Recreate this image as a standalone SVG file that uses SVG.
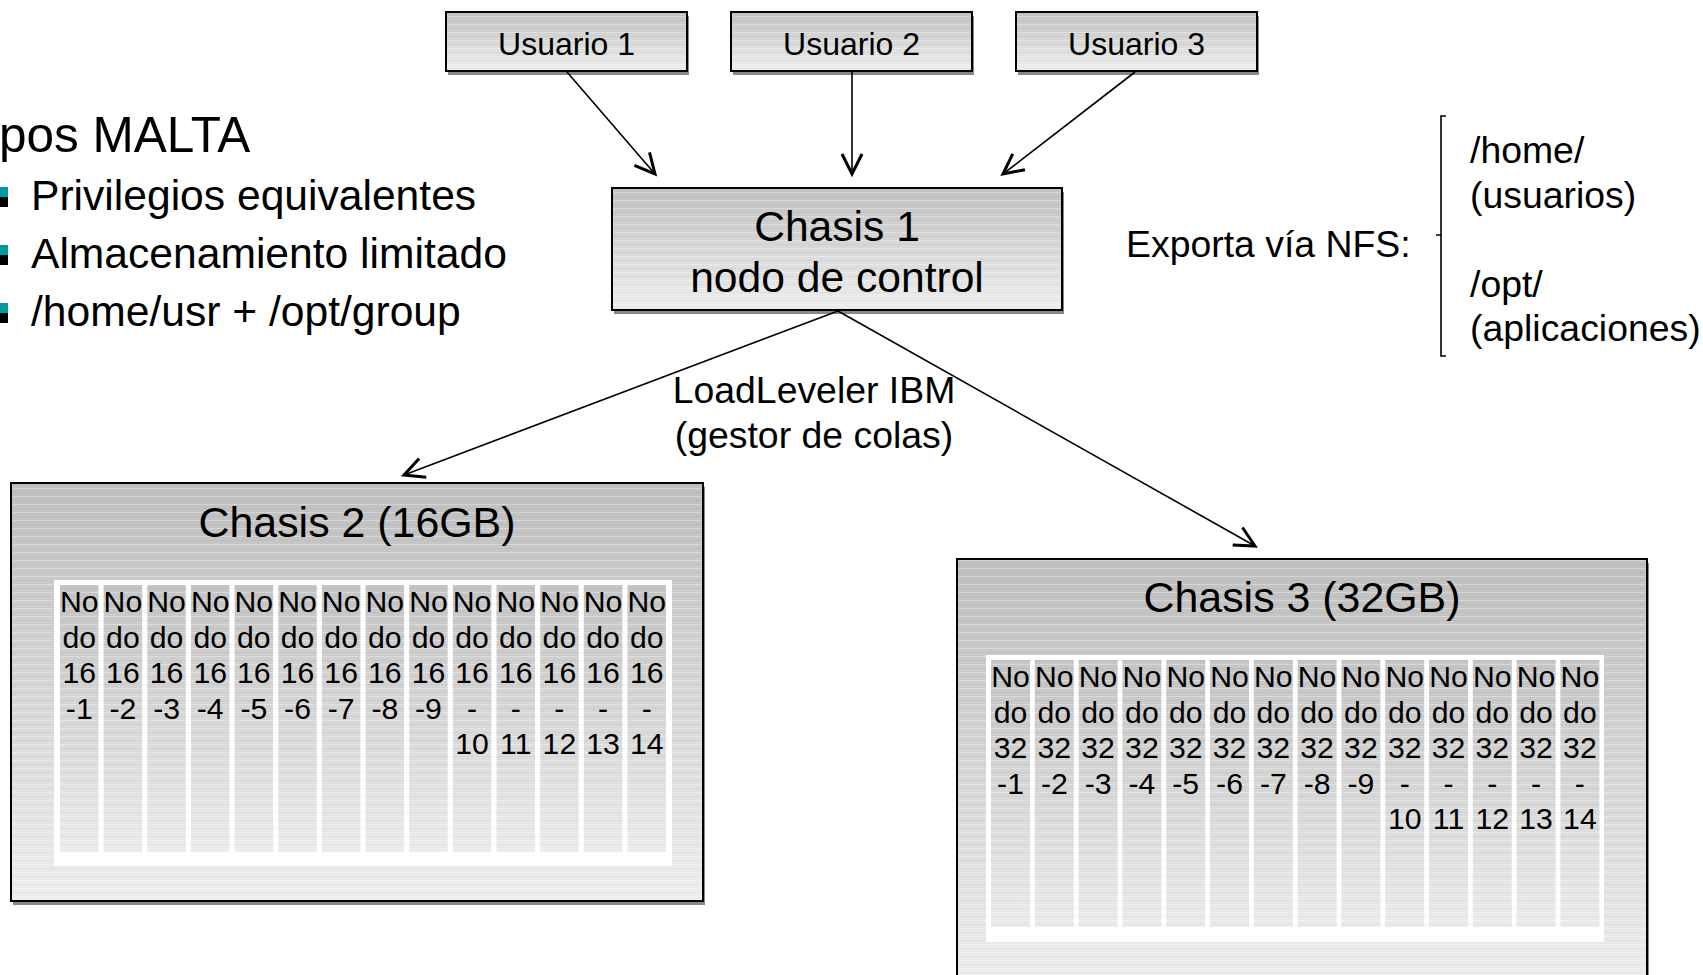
<svg xmlns="http://www.w3.org/2000/svg" width="1703" height="975" viewBox="0 0 1703 975">
<style>
text{font-family:"Liberation Sans",Arial,sans-serif;fill:#000}
.box{stroke:#000;stroke-width:2}
.shadow{fill:#888}
.stripes{fill:url(#stripes)}
.c{text-anchor:middle}
.usr{font-size:32px}
.ch1{font-size:42.6px}
.title{font-size:42.9px}
.nd{font-size:30.2px;text-anchor:middle}
.lst{font-size:42.6px}
.lbl{font-size:37.4px}
.conn{stroke:#000;stroke-width:1.6;fill:none;marker-end:url(#arr)}
.col{fill:url(#gCol)}
</style>
<defs>
<linearGradient id="gUser" x1="0" y1="0" x2="0" y2="1">
<stop offset="0" stop-color="#c2c2c2"/><stop offset="1" stop-color="#efefef"/>
</linearGradient>
<linearGradient id="gBig" x1="0" y1="0" x2="0" y2="1">
<stop offset="0" stop-color="#bfbfbf"/><stop offset="1" stop-color="#eeeeee"/>
</linearGradient>
<linearGradient id="gCol" x1="0" y1="0" x2="0" y2="1">
<stop offset="0" stop-color="#c4c4c4"/><stop offset="1" stop-color="#ebebeb"/>
</linearGradient>
<pattern id="stripes" patternUnits="userSpaceOnUse" width="8" height="8">
<rect x="0" y="0" width="8" height="1" fill="#ffffff" fill-opacity="0.3"/>
<rect x="0" y="4" width="8" height="1" fill="#000000" fill-opacity="0.035"/>
</pattern>
<marker id="arr" markerUnits="userSpaceOnUse" markerWidth="30" markerHeight="30" viewBox="-25 -15 30 30" refX="0" refY="0" orient="auto">
<path d="M-20,-10 L0,0 L-20,10" fill="none" stroke="#000" stroke-width="3"/>
</marker>
</defs>
<rect width="1703" height="975" fill="#fff"/>

<g id="malta-list">
<text x="-1" y="152" style="font-size:49.5px">pos MALTA</text>
<rect x="0" y="187" width="8" height="10" fill="#009b9b"/><rect x="0" y="197" width="8" height="10" fill="#000"/>
<rect x="0" y="245" width="8" height="10" fill="#009b9b"/><rect x="0" y="255" width="8" height="10" fill="#000"/>
<rect x="0" y="303" width="8" height="10" fill="#009b9b"/><rect x="0" y="313" width="8" height="10" fill="#000"/>
<text class="lst" x="31" y="210">Privilegios equivalentes</text>
<text class="lst" x="31" y="268">Almacenamiento limitado</text>
<text class="lst" x="31" y="326">/home/usr + /opt/group</text>
</g>

<g id="usuario1">
<rect class="shadow" x="448" y="16" width="241" height="59"/>
<rect class="box" x="446" y="12" width="241" height="59" fill="url(#gUser)"/>
<rect class="stripes" x="447" y="13" width="239" height="57"/>
<text class="usr c" x="566.5" y="55">Usuario 1</text>
</g>
<g id="usuario2">
<rect class="shadow" x="733" y="16" width="241" height="59"/>
<rect class="box" x="731" y="12" width="241" height="59" fill="url(#gUser)"/>
<rect class="stripes" x="732" y="13" width="239" height="57"/>
<text class="usr c" x="851.5" y="55">Usuario 2</text>
</g>
<g id="usuario3">
<rect class="shadow" x="1018" y="16" width="241" height="59"/>
<rect class="box" x="1016" y="12" width="241" height="59" fill="url(#gUser)"/>
<rect class="stripes" x="1017" y="13" width="239" height="57"/>
<text class="usr c" x="1136.5" y="55">Usuario 3</text>
</g>

<g id="chasis1">
<rect class="shadow" x="614" y="192" width="450" height="122"/>
<rect class="box" x="612" y="188" width="450" height="122" fill="url(#gUser)"/>
<rect class="stripes" x="613" y="189" width="448" height="120"/>
<text class="ch1 c" x="837" y="241">Chasis 1</text>
<text class="ch1 c" x="837" y="292">nodo de control</text>
</g>

<g id="nfs">
<text class="lbl" x="1126" y="257">Exporta vía NFS:</text>
<path d="M1446,116 L1441,116 L1441,356 L1446,356 M1441,235 L1436,235" fill="none" stroke="#000" stroke-width="1.6"/>
<text class="lbl" x="1470" y="163">/home/</text>
<text class="lbl" x="1470" y="208">(usuarios)</text>
<text class="lbl" x="1470" y="297">/opt/</text>
<text class="lbl" x="1470" y="341">(aplicaciones)</text>
</g>

<g id="connectors">
<path class="conn" d="M567,72 L655,174"/>
<path class="conn" d="M852,72 L852,174"/>
<path class="conn" d="M1135,72 L1003,174"/>
<path class="conn" d="M838,311 L404,475"/>
<path class="conn" d="M838,311 L1255,546"/>
</g>

<g id="loadleveler">
<text class="lbl c" x="814" y="403">LoadLeveler IBM</text>
<text class="lbl c" x="814" y="448">(gestor de colas)</text>
</g>

<g id="chasis2">
<rect class="shadow" x="13" y="487" width="692" height="418"/>
<rect class="box" x="11" y="483" width="692" height="418" fill="url(#gBig)" stroke-width="2.5"/>
<rect class="stripes" x="12" y="484" width="690" height="416"/>
<text class="title c" x="357" y="537">Chasis 2 (16GB)</text>
<rect x="54" y="580" width="618" height="286" fill="#fff"/>
<g id="chasis2-nodes">
<rect class="col" x="60" y="585" width="38.5" height="267"/>
<rect class="col" x="103.65" y="585" width="38.5" height="267"/>
<rect class="col" x="147.3" y="585" width="38.5" height="267"/>
<rect class="col" x="190.95" y="585" width="38.5" height="267"/>
<rect class="col" x="234.6" y="585" width="38.5" height="267"/>
<rect class="col" x="278.25" y="585" width="38.5" height="267"/>
<rect class="col" x="321.9" y="585" width="38.5" height="267"/>
<rect class="col" x="365.55" y="585" width="38.5" height="267"/>
<rect class="col" x="409.2" y="585" width="38.5" height="267"/>
<rect class="col" x="452.85" y="585" width="38.5" height="267"/>
<rect class="col" x="496.5" y="585" width="38.5" height="267"/>
<rect class="col" x="540.15" y="585" width="38.5" height="267"/>
<rect class="col" x="583.8" y="585" width="38.5" height="267"/>
<rect class="col" x="627.45" y="585" width="38.5" height="267"/>
<rect class="stripes" x="60" y="585" width="606" height="267"/>
<text class="nd" x="79.25" y="612">No<tspan x="79.25" y="647.5">do</tspan><tspan x="79.25" y="683">16</tspan><tspan x="79.25" y="718.5">-1</tspan></text>
<text class="nd" x="122.9" y="612">No<tspan x="122.9" y="647.5">do</tspan><tspan x="122.9" y="683">16</tspan><tspan x="122.9" y="718.5">-2</tspan></text>
<text class="nd" x="166.55" y="612">No<tspan x="166.55" y="647.5">do</tspan><tspan x="166.55" y="683">16</tspan><tspan x="166.55" y="718.5">-3</tspan></text>
<text class="nd" x="210.2" y="612">No<tspan x="210.2" y="647.5">do</tspan><tspan x="210.2" y="683">16</tspan><tspan x="210.2" y="718.5">-4</tspan></text>
<text class="nd" x="253.85" y="612">No<tspan x="253.85" y="647.5">do</tspan><tspan x="253.85" y="683">16</tspan><tspan x="253.85" y="718.5">-5</tspan></text>
<text class="nd" x="297.5" y="612">No<tspan x="297.5" y="647.5">do</tspan><tspan x="297.5" y="683">16</tspan><tspan x="297.5" y="718.5">-6</tspan></text>
<text class="nd" x="341.15" y="612">No<tspan x="341.15" y="647.5">do</tspan><tspan x="341.15" y="683">16</tspan><tspan x="341.15" y="718.5">-7</tspan></text>
<text class="nd" x="384.8" y="612">No<tspan x="384.8" y="647.5">do</tspan><tspan x="384.8" y="683">16</tspan><tspan x="384.8" y="718.5">-8</tspan></text>
<text class="nd" x="428.45" y="612">No<tspan x="428.45" y="647.5">do</tspan><tspan x="428.45" y="683">16</tspan><tspan x="428.45" y="718.5">-9</tspan></text>
<text class="nd" x="472.1" y="612">No<tspan x="472.1" y="647.5">do</tspan><tspan x="472.1" y="683">16</tspan><tspan x="472.1" y="718.5">-</tspan><tspan x="472.1" y="754">10</tspan></text>
<text class="nd" x="515.75" y="612">No<tspan x="515.75" y="647.5">do</tspan><tspan x="515.75" y="683">16</tspan><tspan x="515.75" y="718.5">-</tspan><tspan x="515.75" y="754">11</tspan></text>
<text class="nd" x="559.4" y="612">No<tspan x="559.4" y="647.5">do</tspan><tspan x="559.4" y="683">16</tspan><tspan x="559.4" y="718.5">-</tspan><tspan x="559.4" y="754">12</tspan></text>
<text class="nd" x="603.05" y="612">No<tspan x="603.05" y="647.5">do</tspan><tspan x="603.05" y="683">16</tspan><tspan x="603.05" y="718.5">-</tspan><tspan x="603.05" y="754">13</tspan></text>
<text class="nd" x="646.7" y="612">No<tspan x="646.7" y="647.5">do</tspan><tspan x="646.7" y="683">16</tspan><tspan x="646.7" y="718.5">-</tspan><tspan x="646.7" y="754">14</tspan></text>
</g>
</g>

<g id="chasis3">
<rect class="shadow" x="959" y="563" width="690" height="430"/>
<rect class="box" x="957" y="559" width="690" height="430" fill="url(#gBig)" stroke-width="2.5"/>
<rect class="stripes" x="958" y="560" width="688" height="428"/>
<text class="title c" x="1302" y="612">Chasis 3 (32GB)</text>
<rect x="986" y="655" width="618" height="287" fill="#fff"/>
<g id="chasis3-nodes">
<rect class="col" x="991" y="660" width="39" height="267"/>
<rect class="col" x="1034.8" y="660" width="39" height="267"/>
<rect class="col" x="1078.6" y="660" width="39" height="267"/>
<rect class="col" x="1122.4" y="660" width="39" height="267"/>
<rect class="col" x="1166.2" y="660" width="39" height="267"/>
<rect class="col" x="1210" y="660" width="39" height="267"/>
<rect class="col" x="1253.8" y="660" width="39" height="267"/>
<rect class="col" x="1297.6" y="660" width="39" height="267"/>
<rect class="col" x="1341.4" y="660" width="39" height="267"/>
<rect class="col" x="1385.2" y="660" width="39" height="267"/>
<rect class="col" x="1429" y="660" width="39" height="267"/>
<rect class="col" x="1472.8" y="660" width="39" height="267"/>
<rect class="col" x="1516.6" y="660" width="39" height="267"/>
<rect class="col" x="1560.4" y="660" width="39" height="267"/>
<rect class="stripes" x="991" y="660" width="609" height="267"/>
<text class="nd" x="1010.5" y="687">No<tspan x="1010.5" y="722.5">do</tspan><tspan x="1010.5" y="758">32</tspan><tspan x="1010.5" y="793.5">-1</tspan></text>
<text class="nd" x="1054.3" y="687">No<tspan x="1054.3" y="722.5">do</tspan><tspan x="1054.3" y="758">32</tspan><tspan x="1054.3" y="793.5">-2</tspan></text>
<text class="nd" x="1098.1" y="687">No<tspan x="1098.1" y="722.5">do</tspan><tspan x="1098.1" y="758">32</tspan><tspan x="1098.1" y="793.5">-3</tspan></text>
<text class="nd" x="1141.9" y="687">No<tspan x="1141.9" y="722.5">do</tspan><tspan x="1141.9" y="758">32</tspan><tspan x="1141.9" y="793.5">-4</tspan></text>
<text class="nd" x="1185.7" y="687">No<tspan x="1185.7" y="722.5">do</tspan><tspan x="1185.7" y="758">32</tspan><tspan x="1185.7" y="793.5">-5</tspan></text>
<text class="nd" x="1229.5" y="687">No<tspan x="1229.5" y="722.5">do</tspan><tspan x="1229.5" y="758">32</tspan><tspan x="1229.5" y="793.5">-6</tspan></text>
<text class="nd" x="1273.3" y="687">No<tspan x="1273.3" y="722.5">do</tspan><tspan x="1273.3" y="758">32</tspan><tspan x="1273.3" y="793.5">-7</tspan></text>
<text class="nd" x="1317.1" y="687">No<tspan x="1317.1" y="722.5">do</tspan><tspan x="1317.1" y="758">32</tspan><tspan x="1317.1" y="793.5">-8</tspan></text>
<text class="nd" x="1360.9" y="687">No<tspan x="1360.9" y="722.5">do</tspan><tspan x="1360.9" y="758">32</tspan><tspan x="1360.9" y="793.5">-9</tspan></text>
<text class="nd" x="1404.7" y="687">No<tspan x="1404.7" y="722.5">do</tspan><tspan x="1404.7" y="758">32</tspan><tspan x="1404.7" y="793.5">-</tspan><tspan x="1404.7" y="829">10</tspan></text>
<text class="nd" x="1448.5" y="687">No<tspan x="1448.5" y="722.5">do</tspan><tspan x="1448.5" y="758">32</tspan><tspan x="1448.5" y="793.5">-</tspan><tspan x="1448.5" y="829">11</tspan></text>
<text class="nd" x="1492.3" y="687">No<tspan x="1492.3" y="722.5">do</tspan><tspan x="1492.3" y="758">32</tspan><tspan x="1492.3" y="793.5">-</tspan><tspan x="1492.3" y="829">12</tspan></text>
<text class="nd" x="1536.1" y="687">No<tspan x="1536.1" y="722.5">do</tspan><tspan x="1536.1" y="758">32</tspan><tspan x="1536.1" y="793.5">-</tspan><tspan x="1536.1" y="829">13</tspan></text>
<text class="nd" x="1579.9" y="687">No<tspan x="1579.9" y="722.5">do</tspan><tspan x="1579.9" y="758">32</tspan><tspan x="1579.9" y="793.5">-</tspan><tspan x="1579.9" y="829">14</tspan></text>
</g>
</g>
</svg>
